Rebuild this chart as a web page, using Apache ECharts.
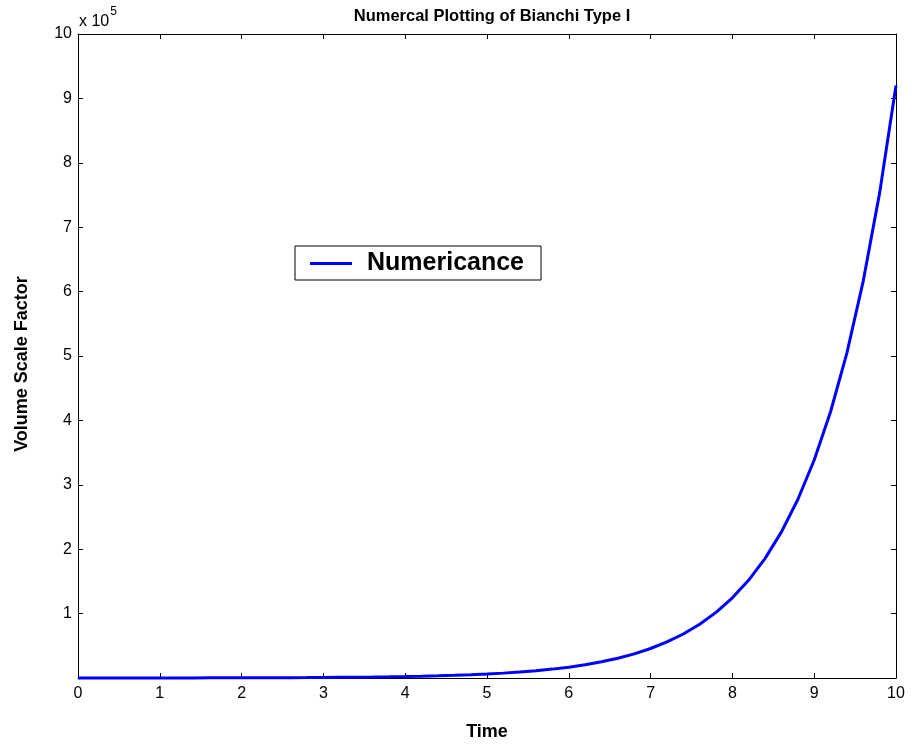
<!DOCTYPE html>
<html>
<head>
<meta charset="utf-8">
<script src="https://cdn.jsdelivr.net/npm/echarts@6/dist/echarts.min.js"></script>
<style>
  html, body { margin: 0; padding: 0; background: #fff; }
  #chart { width: 911px; height: 746px; }
</style>
</head>
<body>
<div id="chart"></div>
<script>
// Time samples (step 0.2) and the volume scale factor at each sample
const timeValues = [
  0.0, 0.2, 0.4, 0.6, 0.8, 1.0, 1.2, 1.4, 1.6, 1.8,
  2.0, 2.2, 2.4, 2.6, 2.8, 3.0, 3.2, 3.4, 3.6, 3.8,
  4.0, 4.2, 4.4, 4.6, 4.8, 5.0, 5.2, 5.4, 5.6, 5.8,
  6.0, 6.2, 6.4, 6.6, 6.8, 7.0, 7.2, 7.4, 7.6, 7.8,
  8.0, 8.2, 8.4, 8.6, 8.8, 9.0, 9.2, 9.4, 9.6, 9.8,
  10.0
];
const volumeValues = [
  42, 51, 62, 76, 93, 114, 139, 169, 207, 253,
  309, 377, 460, 562, 687, 839, 1025, 1252, 1529, 1867,
  2281, 2786, 3402, 4155, 5076, 6199, 7572, 9248, 11296, 13797,
  16851, 20582, 25139, 30705, 37503, 45806, 55948, 68334, 83464, 101944,
  124514, 152085, 185755, 226882, 277113, 338466, 413402, 504927, 616724, 753270,
  920026
];
const xTicks = { min: 0, max: 10, step: 1 };
const yTicks = { min: 0, max: 1000000, step: 100000 };
const seriesName = 'Numericance';

const chart = echarts.init(document.getElementById('chart'), null, { renderer: 'canvas' });
const font = 'Liberation Sans, Arial, Helvetica, sans-serif';
const frameGrid = { left: 78, right: 15, top: 34, bottom: 67 };

const tickStyle = { show: true, inside: true, length: 5, lineStyle: { color: '#000', width: 1 } };
const lineStyle = { show: true, onZero: false, lineStyle: { color: '#000', width: 1 } };

chart.setOption({
  backgroundColor: '#ffffff',
  animation: false,
  title: {
    text: 'Numercal Plotting of Bianchi Type I',
    left: 487, top: 3, textAlign: 'center',
    textStyle: { fontFamily: font, fontSize: 16.5, fontWeight: 'bold', color: '#000' }
  },
  legend: {
    data: [{ name: seriesName, icon: 'rect' }],
    left: 295, top: 246,
    orient: 'horizontal',
    itemWidth: 42, itemHeight: 3,
    padding: [5, 17, 4, 15],
    borderColor: '#000', borderWidth: 1,
    backgroundColor: '#fff',
    selectedMode: false,
    textStyle: {
      fontFamily: font, fontSize: 25, fontWeight: 'bold', color: '#000',
      lineHeight: 22, padding: [3, 0, 0, 10]
    }
  },
  grid: Object.assign({ containLabel: false }, frameGrid),
  xAxis: [
    {
      type: 'value', min: xTicks.min, max: xTicks.max, interval: xTicks.step,
      position: 'bottom',
      name: 'Time', nameLocation: 'middle', nameGap: 45,
      nameTextStyle: { fontFamily: font, fontSize: 18, fontWeight: 'bold', color: '#000' },
      axisLine: lineStyle, axisTick: tickStyle,
      axisLabel: { fontFamily: font, fontSize: 16, color: '#000', margin: 8 },
      splitLine: { show: false }
    },
    {
      type: 'value', min: xTicks.min, max: xTicks.max, interval: xTicks.step,
      position: 'top',
      axisLine: lineStyle, axisTick: tickStyle,
      axisLabel: { show: false }, splitLine: { show: false }
    }
  ],
  yAxis: [
    {
      type: 'value', min: yTicks.min, max: yTicks.max, interval: yTicks.step,
      position: 'left',
      name: 'Volume Scale Factor', nameLocation: 'middle', nameGap: 47, nameRotate: 90,
      nameTextStyle: {
        fontFamily: font, fontSize: 18, fontWeight: 'bold', color: '#000',
        padding: [0, 16, 0, 0]
      },
      axisLine: lineStyle, axisTick: tickStyle,
      axisLabel: {
        fontFamily: font, fontSize: 16, color: '#000', margin: 6,
        formatter: v => (v === 0 ? '' : String(Math.round(v / 100000)))
      },
      splitLine: { show: false }
    },
    {
      type: 'value', min: yTicks.min, max: yTicks.max, interval: yTicks.step,
      position: 'right',
      axisLine: lineStyle, axisTick: tickStyle,
      axisLabel: { show: false }, splitLine: { show: false }
    }
  ],
  graphic: [
    {
      type: 'text', left: 79, top: 6,
      style: {
        text: '{b|x 10}{s|5}',
        rich: {
          b: { fontFamily: font, fontSize: 16, fill: '#000', verticalAlign: 'bottom', lineHeight: 24 },
          s: { fontFamily: font, fontSize: 12, fill: '#000', verticalAlign: 'top', lineHeight: 24, padding: [0, 0, 8, 1] }
        }
      }
    }
  ],
  series: [
    {
      name: seriesName,
      type: 'line',
      xAxisIndex: 0, yAxisIndex: 0,
      data: timeValues.map((t, i) => [t, volumeValues[i]]),
      showSymbol: false,
      clip: false,
      lineStyle: { color: '#0000ff', width: 3 },
      itemStyle: { color: '#0000ff' }
    }
  ]
});
</script>
</body>
</html>
